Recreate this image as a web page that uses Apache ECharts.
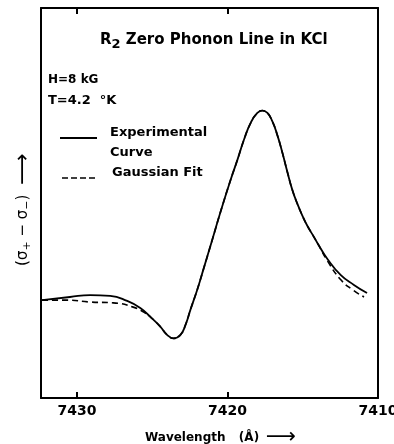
<!DOCTYPE html>
<html>
<head>
<meta charset="utf-8">
<script src="https://cdn.jsdelivr.net/npm/echarts@6/dist/echarts.min.js"></script>
<style>
	html, body { margin: 0; padding: 0; background: #fff; }
	#chart { width: 394px; height: 444px; }
</style>
</head>
<body>
<div id="chart"></div>
<script>
// wavelength in Angstrom, signal in arbitrary units (0..100 over the plot height)
var expWavelength = [7432.33, 7430.47, 7429.13, 7427.8, 7426.67, 7425.8, 7425.13, 7424.47, 7424.02, 7423.58,
	7423.13, 7422.8, 7422.47, 7422.02, 7421.58, 7421.02, 7420.47, 7419.8, 7419.35, 7418.91,
	7418.47, 7418.02, 7417.69, 7417.35, 7417.02, 7416.69, 7416.35, 7416.02, 7415.69, 7415.35,
	7415.02, 7414.69, 7414.35, 7414.02, 7413.35, 7412.47, 7411.6, 7410.73];
var expSignal = [25.1, 25.9, 26.4, 26.2, 24.9, 23.1, 20.8, 18.3, 16.2, 15.3,
	16.2, 18.7, 22.6, 27.7, 33.3, 40.5, 47.7, 55.9, 61.0, 66.2,
	70.5, 73.1, 73.7, 73.1, 70.9, 67.4, 62.8, 57.9, 53.3, 49.7,
	46.7, 44.1, 41.9, 39.7, 35.6, 31.5, 29.0, 26.9];

var fitWavelength = [7432.33, 7430.67, 7429.13, 7427.6, 7426.27, 7425.47, 7425.13, 7424.47, 7424.02, 7423.58,
	7423.13, 7422.8, 7422.47, 7422.02, 7421.58, 7421.02, 7420.47, 7419.8, 7419.35, 7418.91,
	7418.47, 7418.02, 7417.69, 7417.35, 7417.02, 7416.69, 7416.35, 7416.02, 7415.69, 7415.35,
	7415.02, 7414.69, 7414.35, 7414.02, 7413.35, 7412.47, 7411.67, 7410.93];
var fitSignal = [25.1, 25.1, 24.6, 24.4, 23.3, 21.8, 20.8, 18.3, 16.2, 15.3,
	16.2, 18.7, 22.6, 27.7, 33.3, 40.5, 47.7, 55.9, 61.0, 66.2,
	70.5, 73.1, 73.7, 73.1, 70.9, 67.4, 62.8, 57.9, 53.3, 49.7,
	46.7, 44.1, 41.9, 39.7, 35.1, 30.3, 27.7, 25.9];

var xTicks = [7410, 7420, 7430];

var font = 'DejaVu Sans';

function pairs(xs, ys) {
	return xs.map(function(x, i) {
		return [x, ys[i]];
	});
}

var chart = echarts.init(document.getElementById('chart'));

function xAxisOf(pos, showLabel) {
	return {
		type: 'value',
		position: pos,
		min: xTicks[0],
		max: 7432.4,
		interval: 10,
		inverse: true,
		splitLine: { show: false },
		axisLine: { show: true, onZero: false, lineStyle: { color: '#000', width: 2 } },
		axisTick: { show: true, inside: true, length: 6, lineStyle: { color: '#000', width: 2 } },
		axisLabel: {
			show: showLabel,
			showMaxLabel: false,
			showMinLabel: true,
			margin: 6,
			color: '#000',
			fontFamily: font,
			fontWeight: 'bold',
			fontSize: 14,
			formatter: function(v) {
				return String(v);
			}
		}
	};
}

var option = {
	backgroundColor: '#fff',
	animation: false,
	grid: {
		left: 41,
		right: 16,
		top: 8,
		bottom: 46,
		outerBoundsMode: 'none'
	},
	xAxis: [
		xAxisOf('bottom', true),
		xAxisOf('top', false)
	],
	yAxis: [{
		type: 'value',
		position: 'left',
		min: 0,
		max: 100,
		splitLine: { show: false },
		axisLine: { show: true, onZero: false, lineStyle: { color: '#000', width: 2 } },
		axisTick: { show: false },
		axisLabel: { show: false },
		name: '{n|(σ}{s|+}{n| − σ}{s|−}{n|)}   {a|⟶}',
		nameLocation: 'middle',
		nameRotate: 90,
		nameGap: 7,
		nameTextStyle: {
			padding: [0, 13, 0, 0],
			rich: {
				n: { fontFamily: font, fontSize: 15, color: '#000' },
				s: { fontFamily: font, fontSize: 11, color: '#000', padding: [9, 0, 0, 0] },
				a: { fontFamily: font, fontSize: 22, color: '#000' }
			}
		}
	}, {
		type: 'value',
		position: 'right',
		min: 0,
		max: 100,
		splitLine: { show: false },
		axisLine: { show: true, onZero: false, lineStyle: { color: '#000', width: 2 } },
		axisTick: { show: false },
		axisLabel: { show: false }
	}],
	series: [{
		name: 'Experimental Curve',
		type: 'line',
		data: pairs(expWavelength, expSignal),
		smooth: 0.5,
		showSymbol: false,
		lineStyle: { color: '#000', width: 1.8 }
	}, {
		name: 'Gaussian Fit',
		type: 'line',
		data: pairs(fitWavelength, fitSignal),
		smooth: 0.5,
		showSymbol: false,
		lineStyle: { color: '#000', width: 1.6, type: [6, 4] }
	}],
	graphic: [{
		type: 'text',
		left: 100,
		top: 33,
		style: {
			text: '{a|R}{s|2}{a| Zero Phonon Line in KCl}',
			rich: {
				a: { fontFamily: font, fontWeight: 'bold', fontSize: 15, fill: '#000' },
				s: { fontFamily: font, fontWeight: 'bold', fontSize: 13, fill: '#000', padding: [8, 0, 0, 0] }
			}
		}
	}, {
		type: 'text',
		left: 48,
		top: 74,
		style: { text: 'H=8 kG', font: 'bold 12px "DejaVu Sans"', fill: '#000' }
	}, {
		type: 'text',
		left: 48,
		top: 94,
		style: { text: 'T=4.2  °K', font: 'bold 13px "DejaVu Sans"', fill: '#000' }
	}, {
		type: 'line',
		shape: { x1: 60, y1: 138, x2: 97, y2: 138 },
		style: { stroke: '#000', lineWidth: 1.8 }
	}, {
		type: 'text',
		left: 110,
		top: 126,
		style: { text: 'Experimental', font: 'bold 13px "DejaVu Sans"', fill: '#000' }
	}, {
		type: 'text',
		left: 110,
		top: 146,
		style: { text: 'Curve', font: 'bold 13px "DejaVu Sans"', fill: '#000' }
	}, {
		type: 'line',
		shape: { x1: 62, y1: 178, x2: 97, y2: 178 },
		style: { stroke: '#000', lineWidth: 1.6, lineDash: [6, 3] }
	}, {
		type: 'text',
		left: 145,
		top: 427,
		style: {
			text: '{w|Wavelength}    {w|(Å)}  {a|⟶}',
			rich: {
				w: { fontFamily: font, fontWeight: 'bold', fontSize: 12, fill: '#000' },
				a: { fontFamily: font, fontSize: 21, fill: '#000' }
			}
		}
	}, {
		type: 'text',
		left: 112,
		top: 166,
		style: { text: 'Gaussian Fit', font: 'bold 13px "DejaVu Sans"', fill: '#000' }
	}]
};

chart.setOption(option);
</script>
</body>
</html>
